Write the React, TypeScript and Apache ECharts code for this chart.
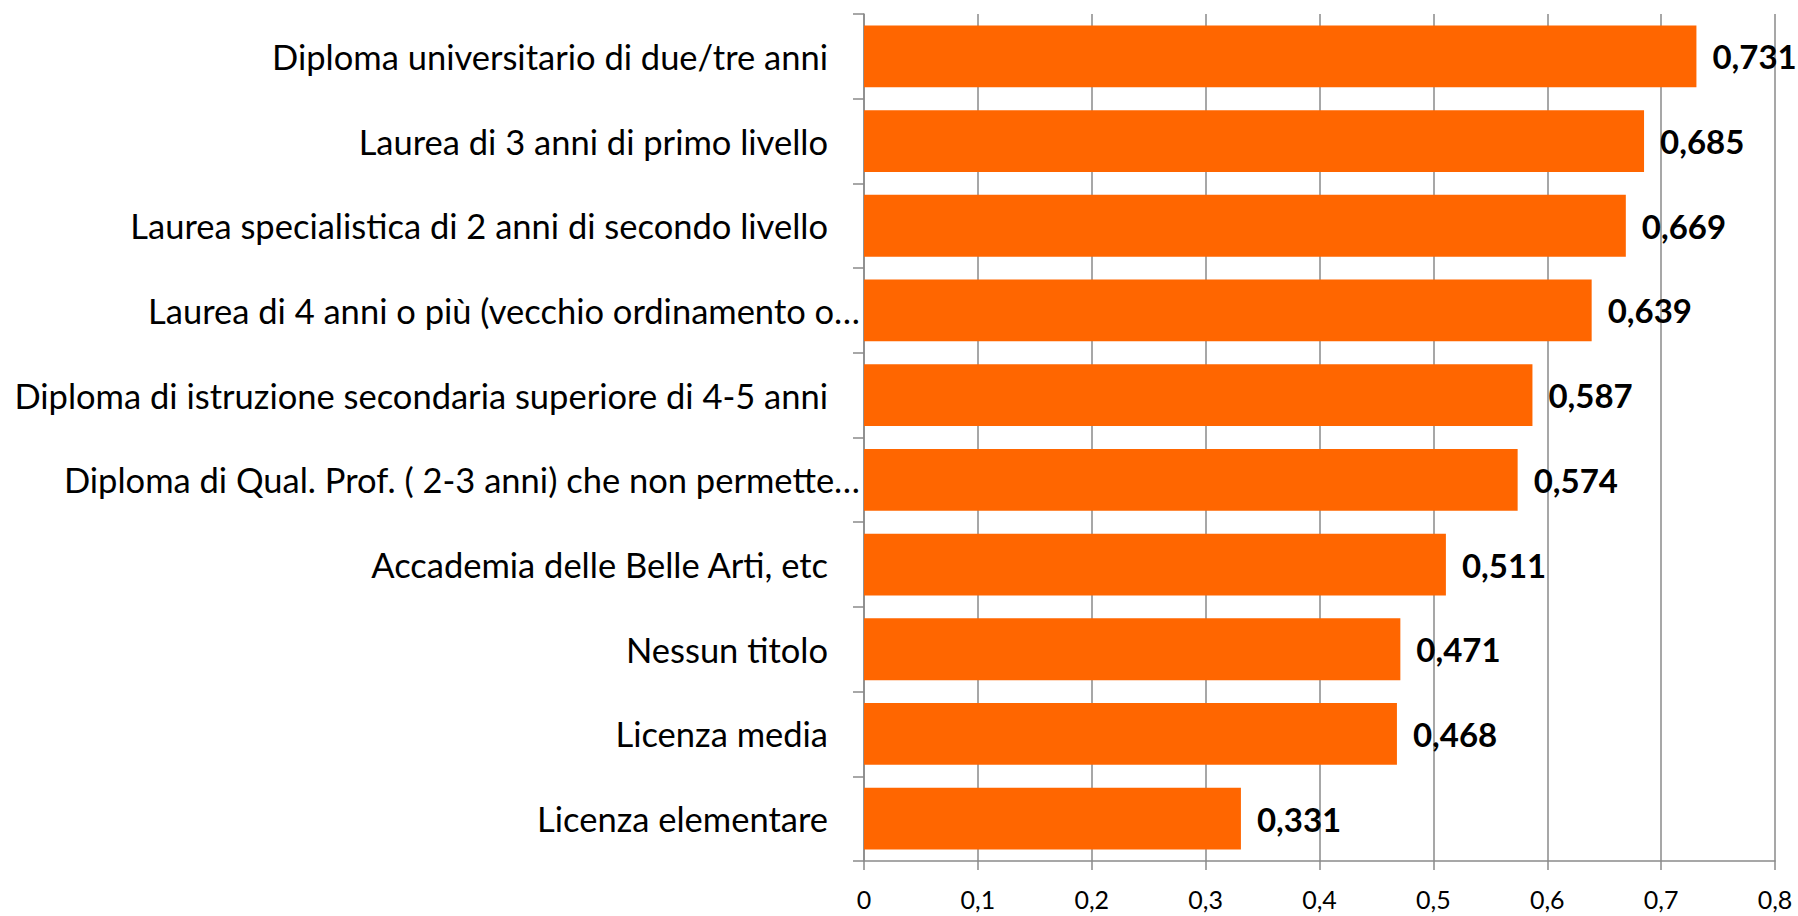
import React, { useEffect, useRef } from "react";
import * as echarts from "echarts";

const categories = [
  "Diploma universitario di due/tre anni",
  "Laurea di 3 anni di primo livello",
  "Laurea specialistica di 2 anni di secondo livello",
  "Laurea di 4 anni o più (vecchio ordinamento o…",
  "Diploma di istruzione secondaria superiore di 4-5 anni",
  "Diploma di Qual. Prof. ( 2-3 anni) che non permette…",
  "Accademia delle Belle Arti, etc",
  "Nessun titolo",
  "Licenza media",
  "Licenza elementare",
];

const values = [0.731, 0.685, 0.669, 0.639, 0.587, 0.574, 0.511, 0.471, 0.468, 0.331];

const xMin = 0;
const xMax = 0.8;
const xStep = 0.1;

const FONT = "Lato, 'Open Sans', sans-serif";

export default function App() {
  const ref = useRef<HTMLDivElement>(null);
  useEffect(() => {
    if (!ref.current) return;
    const chart = echarts.init(ref.current, null, { renderer: "svg" });
    const gray = "#8a8a8a";
    chart.setOption({
      animation: false,
      backgroundColor: "#ffffff",
      grid: { left: 864, right: 23, top: 14, bottom: 55, containLabel: false },
      xAxis: {
        type: "value",
        min: xMin,
        max: xMax,
        interval: xStep,
        axisLine: { show: true, lineStyle: { color: gray, width: 1.5 } },
        axisTick: { show: true, length: 9, lineStyle: { color: gray, width: 1.5 } },
        splitLine: { show: true, lineStyle: { color: gray, width: 1.5 } },
        axisLabel: {
          margin: 25,
          color: "#000",
          fontFamily: FONT,
          fontSize: 25,
          lineHeight: 25,
          formatter: (v: number) => (Math.round(v * 10) / 10).toString().replace(".", ","),
        },
      },
      yAxis: {
        type: "category",
        data: categories,
        inverse: true,
        axisLine: { show: true, lineStyle: { color: gray, width: 1.5 } },
        axisTick: { show: true, length: 11, lineStyle: { color: gray, width: 1.5 } },
        axisLabel: {
          margin: 4,
          color: "#000",
          fontFamily: FONT,
          fontSize: 34.5,
          formatter: (v: string) => (v.endsWith("…") ? `{t|${v}}` : `{n|${v}}`),
          rich: {
            t: { fontFamily: FONT, fontSize: 34.5, color: "#000" },
            n: { fontFamily: FONT, fontSize: 34.5, color: "#000", padding: [0, 32, 0, 0] },
          },
        },
      },
      series: [
        {
          type: "bar",
          data: values,
          barCategoryGap: "27%",
          itemStyle: { color: "#ff6600" },
          label: {
            show: true,
            position: "right",
            distance: 16,
            color: "#000",
            fontFamily: FONT,
            fontWeight: "bold",
            fontSize: 33,
            formatter: (p: any) => p.value.toFixed(3).replace(".", ","),
          },
        },
      ],
    });
    return () => chart.dispose();
  }, []);
  return (
    <div
      ref={ref}
      style={{ position: "absolute", left: 0, top: 0, width: 1798, height: 916 }}
    />
  );
}
